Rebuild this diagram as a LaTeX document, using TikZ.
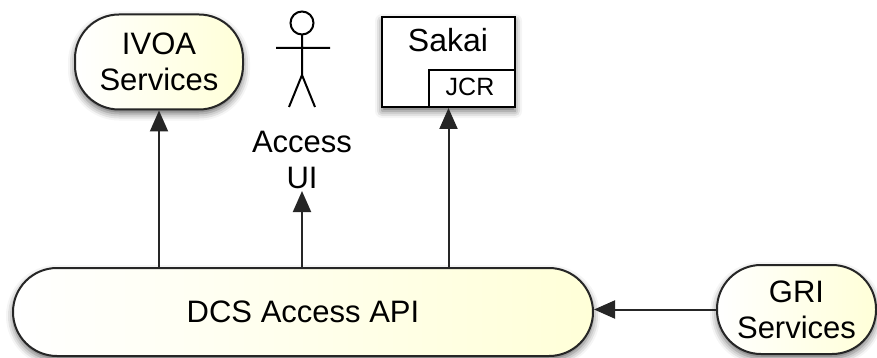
\documentclass[tikz,border=0pt]{standalone}
\usepackage{fontspec}
\setmainfont{Liberation Sans}
\usetikzlibrary{shadows.blur,arrows.meta}
\definecolor{paleyellow}{HTML}{FFFFD8}
\tikzset{
  x=1pt,y=-1pt,
  pill/.style={draw=black!85, line width=2pt, rounded corners=44pt,
    left color=white, right color=paleyellow, align=center,
    font=\fontsize{31}{36}\selectfont, inner sep=0pt,
    blur shadow={shadow xshift=0pt, shadow yshift=-4pt, shadow blur radius=7pt, shadow opacity=60}},
  boxnode/.style={draw=black, line width=2pt, fill=white, inner sep=0pt,
    blur shadow={shadow xshift=0pt, shadow yshift=-4pt, shadow blur radius=7pt, shadow opacity=60}},
  conn/.style={line width=2pt, draw=black!85, -{Triangle[length=21pt,width=18pt]}},
  lbl/.style={font=\fontsize{31}{36}\selectfont, align=center, inner sep=0pt}
}
\begin{document}
\begin{tikzpicture}
\useasboundingbox (0,0) rectangle (877,358);
% IVOA
\node[pill, minimum width=168pt, minimum height=95pt] (ivoa) at (159,62) {IVOA\\Services};
% DCS
\node[pill, minimum width=580pt, minimum height=88pt] (dcs) at (303,312) {DCS Access API};
% GRI
\node[pill, minimum width=159pt, minimum height=89pt] (gri) at (796.5,309.5) {GRI\\Services};
% Sakai
\node[boxnode, minimum width=133pt, minimum height=90pt] (sakai) at (448.5,62) {};
\node[lbl, font=\fontsize{32}{36}\selectfont] (sakaitxt) at (448,40) {Sakai};
\node[draw=black, line width=2pt, fill=white, inner sep=0pt, minimum width=86pt, minimum height=37pt] (jcr) at (472,88.5) {};
\node[lbl, font=\fontsize{25}{30}\selectfont] (jcrtxt) at (470,87) {JCR};
% Actor
\draw[line width=2pt, fill=white] (302,23) circle (11.5);
\coordinate (neck) at (302,35);
\coordinate (hip) at (302,75);
\coordinate (arml) at (276,48);
\coordinate (armr) at (330,48);
\coordinate (legl) at (289,107);
\coordinate (legr) at (315,107);
\draw[line width=2pt] (neck) -- (hip) (arml) -- (armr) (hip) -- (legl) (hip) -- (legr);
\node[lbl] (access) at (302,160) {Access\\UI};
% connectors
\draw[conn] (dcs.north -| ivoa.south) -- (ivoa.south);
\draw[conn] (dcs.north -| access.south) -- ([yshift=-2pt]access.south);
\draw[conn] (dcs.north -| sakai.south) -- (sakai.south);
\draw[conn] (gri.west) -- (gri.west -| dcs.east);
\end{tikzpicture}
\end{document}
